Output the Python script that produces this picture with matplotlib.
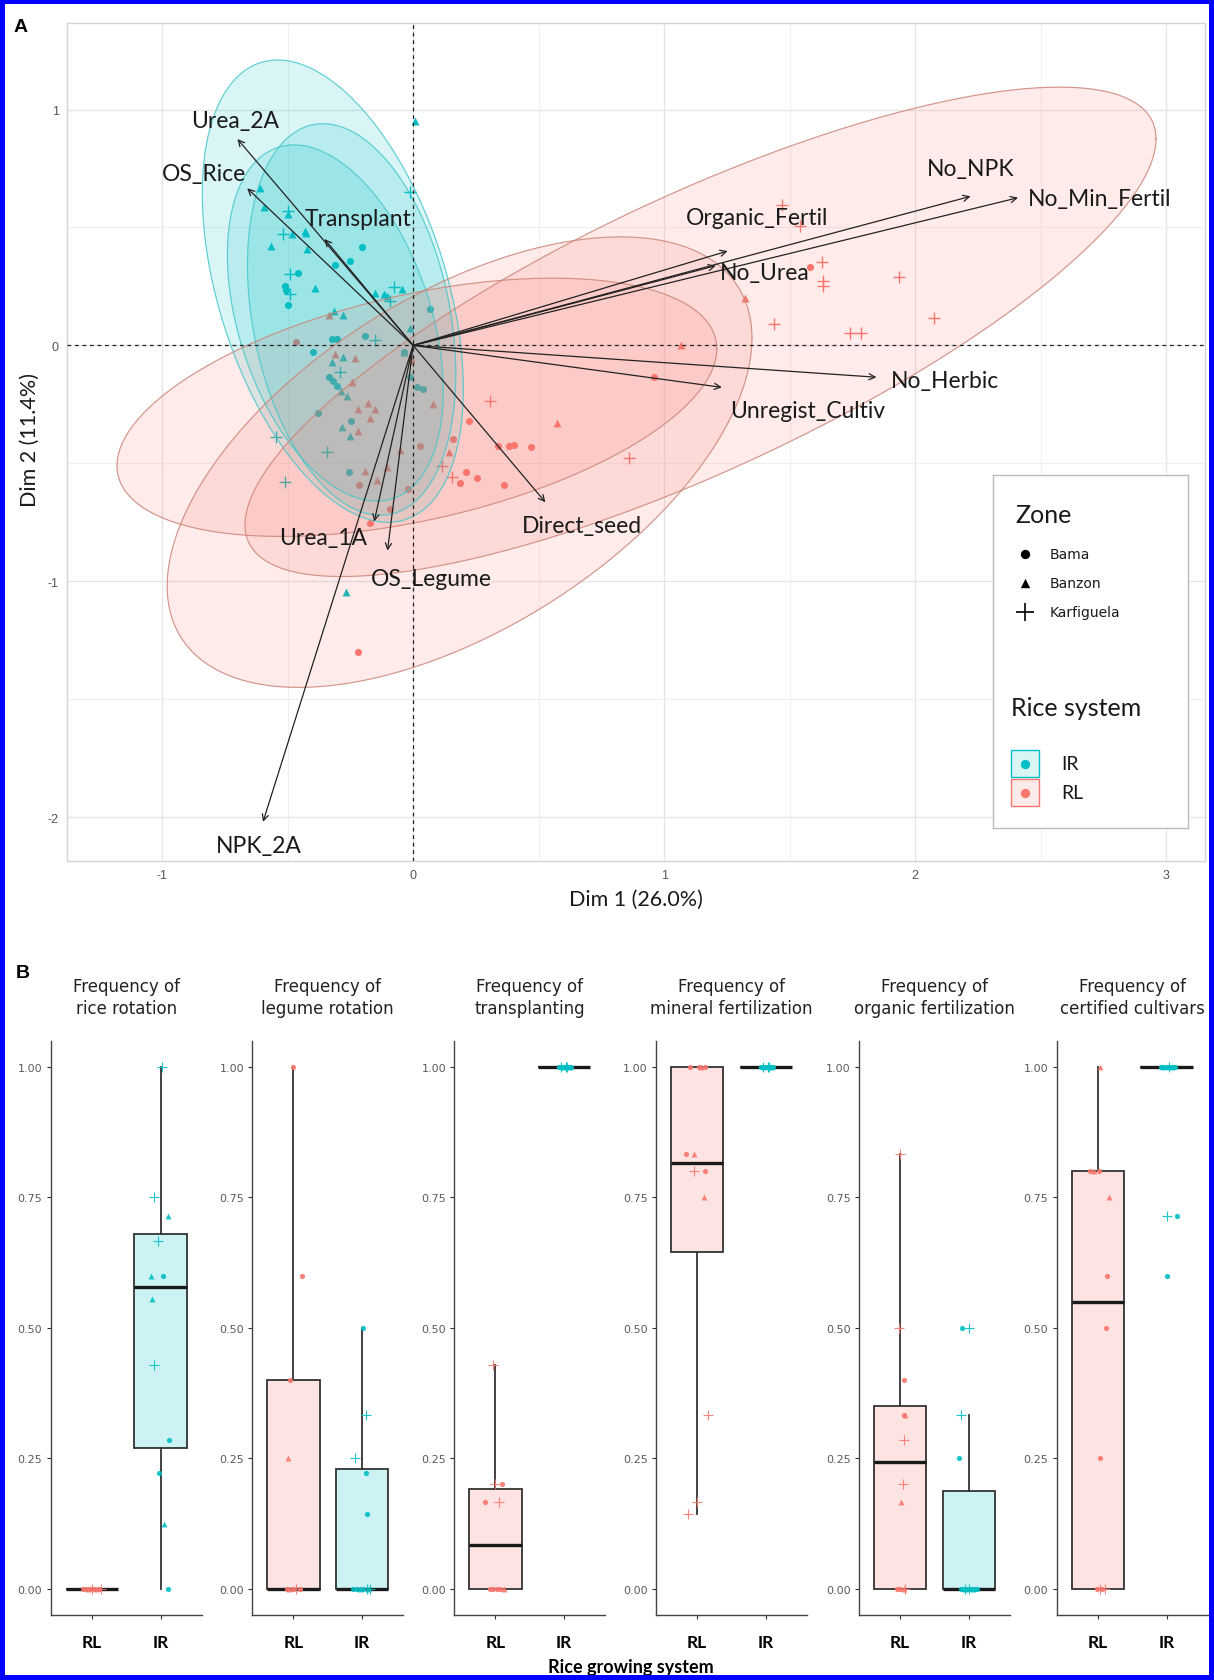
import numpy as np
import matplotlib
matplotlib.use("Agg")
import matplotlib.pyplot as plt
from matplotlib.patches import Polygon, Rectangle

# ======================= DATA: panel A (PCA biplot) =======================
ir_bama_d1 = [-0.204, -0.251, -0.31, -0.457, -0.51, -0.508, -0.499, 0.068, -0.324, -0.304, -0.191,
              -0.397, -0.038, -0.337, -0.32, -0.304, -0.012, 0.015, 0.041, -0.38, -0.247, -0.257]
ir_bama_d2 = [0.419, 0.359, 0.342, 0.307, 0.253, 0.233, 0.173, 0.154, 0.027, 0.027, 0.039,
              -0.027, -0.029, -0.135, -0.15, -0.171, -0.135, -0.178, -0.185, -0.287, -0.319, -0.538]
ir_banzon_d1 = [0.009, -0.609, -0.596, -0.50, -0.483, -0.43, -0.425, -0.567, -0.423, -0.39, -0.151,
                -0.118, -0.105, -0.045, -0.012, -0.317, -0.28, -0.035, -0.28, -0.323, -0.288, -0.264,
                -0.284, -0.253, -0.267]
ir_banzon_d2 = [0.953, 0.666, 0.585, 0.557, 0.472, 0.486, 0.478, 0.423, 0.409, 0.242, 0.222,
                0.218, 0.211, 0.239, 0.072, 0.147, 0.129, -0.027, -0.05, -0.072, -0.192, -0.213,
                -0.347, -0.383, -1.047]
ir_karf_d1 = [-0.012, -0.50, -0.517, -0.49, -0.49, -0.091, -0.078, -0.151, -0.293, -0.546, -0.344, -0.51]
ir_karf_d2 = [0.652, 0.57, 0.472, 0.303, 0.218, 0.19, 0.246, 0.024, -0.114, -0.39, -0.453, -0.578]

rl_bama_d1 = [-0.466, 0.026, -0.022, -0.094, -0.171, -0.214, -0.009, 0.221, 0.159, 0.212, 0.188,
              0.254, 0.34, 0.384, 0.40, 0.47, 0.363, 0.958, 1.583, -0.22]
rl_bama_d2 = [0.013, -0.428, -0.609, -0.694, -0.753, -0.592, -0.065, -0.319, -0.397, -0.535, -0.583,
              -0.563, -0.425, -0.428, -0.421, -0.429, -0.592, -0.133, 0.331, -1.30]
rl_banzon_d1 = [-0.337, -0.31, -0.233, -0.244, -0.218, -0.178, -0.151, -0.171, -0.218, -0.191,
                -0.144, -0.105, -0.054, 0.079, 0.144, 0.573, 1.067, 1.324]
rl_banzon_d2 = [0.129, -0.036, -0.055, -0.157, -0.27, -0.244, -0.27, -0.309, -0.362, -0.531,
                -0.569, -0.517, -0.442, -0.248, -0.45, -0.329, 0.0, 0.2]
rl_karf_d1 = [0.307, 0.115, 0.155, 0.862, 1.436, 1.47, 1.543, 1.629, 1.633, 1.633, 1.935, 2.074, 1.739, 1.785]
rl_karf_d2 = [-0.234, -0.51, -0.559, -0.479, 0.091, 0.595, 0.507, 0.352, 0.274, 0.253, 0.289, 0.115, 0.053, 0.053]

# confidence ellipses (centre, half-extent in x and y, phase of y-extreme)
ell_system = ["IR", "IR", "IR", "RL", "RL", "RL"]
ell_cx = [-0.32, -0.245, -0.31, 1.145, 0.185, 0.015]
ell_cy = [0.23, 0.11, 0.095, 0.0575, -0.495, -0.2625]
ell_hx = [0.52, 0.415, 0.43, 1.815, 1.165, 1.195]
ell_hy = [0.98, 0.83, 0.755, 1.0375, 0.955, 0.5475]
ell_phase = [115.0, 106.0, 112.5, 38.0, 56.6, 63.1]

# variable arrows
var_names = ["Urea_2A", "OS_Rice", "Transplant", "Organic_Fertil", "No_Urea", "No_NPK",
             "No_Min_Fertil", "No_Herbic", "Unregist_Cultiv", "Direct_seed", "Urea_1A",
             "OS_Legume", "NPK_2A"]
var_dim1 = [-0.70, -0.661, -0.353, 1.253, 1.206, 2.221, 2.41, 1.846, 1.23, 0.527, -0.155, -0.102, -0.598]
var_dim2 = [0.875, 0.666, 0.451, 0.40, 0.338, 0.632, 0.626, -0.135, -0.178, -0.665, -0.747, -0.87, -2.02]
lab_x = [-0.708, -0.834, -0.22, 1.37, 1.40, 2.22, 2.735, 2.12, 1.573, 0.673, -0.357, 0.072, -0.613]
lab_y = [0.953, 0.727, 0.536, 0.543, 0.31, 0.748, 0.624, -0.15, -0.277, -0.764, -0.813, -0.99, -2.12]

x_ticks_a = [-1, 0, 1, 2, 3]
y_ticks_a = [-2, -1, 0, 1]
zones = ["Bama", "Banzon", "Karfiguela"]
systems = ["IR", "RL"]

# ======================= DATA: panel B (boxplots) =======================
titles_b = ["Frequency of\nrice rotation", "Frequency of\nlegume rotation", "Frequency of\ntransplanting",
            "Frequency of\nmineral fertilization", "Frequency of\norganic fertilization",
            "Frequency of\ncertified cultivars"]
b_cats = ["RL", "IR"]
yticks_b = [0.0, 0.25, 0.5, 0.75, 1.0]

rl_vals = [
    [0, 0, 0, 0, 0, 0, 0, 0, 0],
    [1.0, 0.6, 0.4, 0.25, 0, 0, 0, 0, 0],
    [0.429, 0.2, 0.2, 0.167, 0.167, 0, 0, 0, 0, 0],
    [1, 1, 1, 1, 0.833, 0.833, 0.8, 0.8, 0.75, 0.333, 0.167, 0.143],
    [0.833, 0.5, 0.4, 0.333, 0.333, 0.286, 0.2, 0.167, 0, 0, 0, 0],
    [1.0, 0.8, 0.8, 0.8, 0.75, 0.6, 0.5, 0.25, 0, 0, 0, 0],
]
rl_zone = [
    ["Bama", "Bama", "Banzon", "Bama", "Karfiguela", "Bama", "Banzon", "Bama", "Karfiguela"],
    ["Bama", "Bama", "Bama", "Banzon", "Bama", "Bama", "Bama", "Karfiguela", "Banzon"],
    ["Karfiguela", "Bama", "Karfiguela", "Bama", "Karfiguela", "Bama", "Bama", "Bama", "Bama", "Banzon"],
    ["Bama", "Banzon", "Bama", "Bama", "Bama", "Banzon", "Karfiguela", "Bama", "Banzon", "Karfiguela",
     "Karfiguela", "Karfiguela"],
    ["Karfiguela", "Karfiguela", "Bama", "Bama", "Banzon", "Karfiguela", "Karfiguela", "Banzon",
     "Bama", "Bama", "Banzon", "Karfiguela"],
    ["Banzon", "Bama", "Bama", "Banzon", "Banzon", "Bama", "Bama", "Bama", "Karfiguela", "Karfiguela",
     "Bama", "Bama"],
]
rl_jit = [
    [-0.125, -0.09, -0.06, -0.03, 0.0, 0.03, 0.06, 0.1, 0.14],
    [-0.013, 0.13, -0.05, -0.075, -0.1, 0.0, 0.095, 0.03, -0.06],
    [-0.037, 0.095, -0.012, -0.15, 0.046, -0.08, -0.03, 0.02, 0.07, 0.12],
    [-0.107, 0.05, 0.024, 0.107, -0.156, -0.05, -0.05, 0.107, 0.1, 0.156, 0.0, -0.137],
    [0.0, -0.01, 0.06, 0.05, 0.07, 0.06, 0.04, 0.015, -0.05, 0.0, 0.05, 0.07],
    [0.035, -0.11, 0.01, -0.05, 0.155, 0.13, 0.12, 0.025, 0.035, 0.11, 0.06, -0.02],
]
ir_vals = [
    [1.0, 0.75, 0.714, 0.667, 0.6, 0.6, 0.556, 0.429, 0.286, 0.222, 0.125, 0.0],
    [0.5, 0.333, 0.25, 0.222, 0.143, 0, 0, 0, 0, 0, 0, 0],
    [1.0] * 12,
    [1.0] * 12,
    [0.5, 0.5, 0.333, 0.25, 0, 0, 0, 0, 0, 0, 0, 0, 0, 0],
    [0.714, 0.714, 0.6] + [1.0] * 11,
]
ir_zone = [
    ["Karfiguela", "Karfiguela", "Banzon", "Karfiguela", "Banzon", "Bama", "Banzon", "Karfiguela",
     "Bama", "Bama", "Banzon", "Bama"],
    ["Bama", "Karfiguela", "Karfiguela", "Bama", "Bama", "Bama", "Karfiguela", "Karfiguela", "Bama",
     "Banzon", "Bama", "Banzon"],
    ["Bama", "Karfiguela", "Banzon", "Bama", "Bama", "Karfiguela", "Bama", "Banzon", "Bama", "Bama",
     "Karfiguela", "Bama"],
    ["Bama", "Karfiguela", "Banzon", "Bama", "Bama", "Karfiguela", "Bama", "Banzon", "Bama", "Bama",
     "Karfiguela", "Bama"],
    ["Bama", "Karfiguela", "Karfiguela", "Bama", "Bama", "Bama", "Banzon", "Bama",
     "Karfiguela", "Bama", "Banzon", "Bama", "Bama", "Karfiguela"],
    ["Karfiguela", "Bama", "Bama", "Bama", "Bama", "Banzon", "Bama", "Bama", "Karfiguela", "Bama",
     "Banzon", "Bama", "Bama", "Bama"],
]
ir_jit = [
    [0.017, -0.095, 0.114, -0.032, -0.143, 0.032, -0.129, -0.095, 0.129, -0.017, 0.051, 0.114],
    [0.016, 0.055, -0.105, 0.055, 0.065, -0.13, 0.065, 0.113, -0.08, -0.03, 0.02, 0.09],
    [-0.07, -0.04, -0.02, 0.0, 0.02, 0.04, 0.06, 0.08, 0.1, -0.05, 0.03, 0.07],
    [-0.07, -0.04, -0.02, 0.0, 0.02, 0.04, 0.06, 0.08, 0.1, -0.05, 0.03, 0.07],
    [-0.095, 0.0, -0.12, -0.145, -0.12, -0.09, -0.06, -0.03, 0.0, 0.03, 0.06, 0.09, 0.125, -0.05],
    [0.01, 0.155, 0.01, -0.08, -0.05, -0.03, 0.0, 0.02, 0.04, 0.06, 0.08, 0.1, 0.12, -0.06],
]

# ======================= STYLE =======================
W, H = 1214, 1681
IR_COL = "#00BFC4"
RL_COL = "#F8766D"
SYS_COL = {"IR": IR_COL, "RL": RL_COL}
SYS_EDGE = {"IR": "#45C7CB", "RL": "#CC8475"}
MARK = {"Bama": "o", "Banzon": "^", "Karfiguela": "+"}
SIZE_A = {"Bama": 26, "Banzon": 32, "Karfiguela": 70}
SIZE_B = {"Bama": 14, "Banzon": 18, "Karfiguela": 55}
LAB_FONT = ["Lato", "DejaVu Sans"]

plt.rcParams["font.family"] = ["Lato", "DejaVu Sans"]

fig = plt.figure(figsize=(W / 100, H / 100), dpi=100)


def px_axes(l, t, r, b):
    return fig.add_axes([l / W, 1 - b / H, (r - l) / W, (b - t) / H])


# ======================= PANEL A =======================
ax = px_axes(67, 23.5, 1205, 861.5)
ax.set_xlim(-1.379, 3.155)
ax.set_ylim(-2.184, 1.369)
ax.set_xticks(x_ticks_a)
ax.set_yticks(y_ticks_a)
ax.set_xticks(np.arange(-1.0, 3.01, 0.5), minor=True)
ax.set_yticks(np.arange(-2.0, 1.01, 0.5), minor=True)
ax.grid(True, which="major", color="#E6E6E6", lw=1.0, zorder=0)
ax.grid(True, which="minor", color="#F0F0F0", lw=0.8, zorder=0)
ax.tick_params(which="both", length=0, labelsize=9, labelcolor="#555555", pad=6)
ax.set_xticklabels([str(v) for v in x_ticks_a], family="Liberation Sans")
ax.set_yticklabels([str(v) for v in y_ticks_a], family="Liberation Sans")
for s in ax.spines.values():
    s.set_color("#D4D4D4")
    s.set_linewidth(1.0)

groups = [
    ("IR", "Bama", ir_bama_d1, ir_bama_d2), ("IR", "Banzon", ir_banzon_d1, ir_banzon_d2),
    ("IR", "Karfiguela", ir_karf_d1, ir_karf_d2),
    ("RL", "Bama", rl_bama_d1, rl_bama_d2), ("RL", "Banzon", rl_banzon_d1, rl_banzon_d2),
    ("RL", "Karfiguela", rl_karf_d1, rl_karf_d2),
]
for sysn, zone, xs, ys in groups:
    if zone == "Karfiguela":
        ax.scatter(xs, ys, marker="+", s=SIZE_A[zone], color=SYS_COL[sysn], lw=1.0, zorder=2)
    else:
        ax.scatter(xs, ys, marker=MARK[zone], s=SIZE_A[zone], color=SYS_COL[sysn], lw=0, zorder=2)

t = np.linspace(0, 2 * np.pi, 400)
for sysn, cx, cy, hx, hy, ph in zip(ell_system, ell_cx, ell_cy, ell_hx, ell_hy, ell_phase):
    ex = cx + hx * np.cos(t)
    ey = cy + hy * np.cos(t - np.deg2rad(ph))
    alpha = 0.15 if sysn == "IR" else 0.14
    ax.add_patch(Polygon(np.column_stack([ex, ey]), closed=True, facecolor=SYS_COL[sysn],
                         alpha=alpha, edgecolor="none", zorder=3))
    ax.plot(ex, ey, color=SYS_EDGE[sysn], lw=0.85, alpha=0.85, zorder=3.5)

ax.axhline(0, color="#222222", lw=0.9, ls=(0, (3, 3)), zorder=4)
ax.axvline(0, color="#222222", lw=0.9, ls=(0, (3, 3)), zorder=4)

for name, vx, vy, lx, ly in zip(var_names, var_dim1, var_dim2, lab_x, lab_y):
    ax.annotate("", xy=(vx, vy), xytext=(0, 0),
                arrowprops=dict(arrowstyle="->", color="#222222", lw=0.9, shrinkA=0, shrinkB=0,
                                mutation_scale=11), zorder=5)
    ax.text(lx, ly, name, ha="center", va="center", fontsize=16.5, color="#1a1a1a",
            family=LAB_FONT, zorder=6)

ax.set_xlabel("Dim 1 (26.0%)", fontsize=15.5, color="#1a1a1a", labelpad=6)
fig.text(30 / W, 1 - 440 / H, "Dim 2 (11.4%)", rotation=90, ha="center", va="center",
         fontsize=15.5, color="#1a1a1a")

# legend
lg = px_axes(993, 476, 1187.5, 828.5)
lg.set_xlim(0, 1)
lg.set_ylim(0, 1)
lg.set_xticks([])
lg.set_yticks([])
for s in lg.spines.values():
    s.set_color("#BBBBBB")
    s.set_linewidth(1.0)
lg.text(0.114, 0.889, "Zone", fontsize=18, va="center", ha="left", color="#1a1a1a")
zone_y = [0.776, 0.695, 0.61]
for z, zy in zip(zones, zone_y):
    if z == "Karfiguela":
        lg.scatter([0.165], [zy], marker="+", s=150, color="black", lw=1.2)
    else:
        lg.scatter([0.165], [zy], marker=MARK[z], s=45, color="black", lw=0)
    lg.text(0.29, zy, z, fontsize=10, va="center", ha="left", color="#1a1a1a",
            family="Liberation Sans Narrow")
lg.text(0.09, 0.34, "Rice system", fontsize=18, va="center", ha="left", color="#1a1a1a")
sys_y = [0.181, 0.099]
for sname, sy in zip(systems, sys_y):
    lg.add_patch(Rectangle((0.093, sy - 0.039), 0.146, 0.078, facecolor=SYS_COL[sname], alpha=0.15,
                           edgecolor="none"))
    lg.add_patch(Rectangle((0.093, sy - 0.039), 0.146, 0.078, facecolor="none",
                           edgecolor=SYS_COL[sname], lw=1.0))
    lg.scatter([0.166], [sy], marker="o", s=45, color=SYS_COL[sname], lw=0)
    lg.text(0.352, sy, sname, fontsize=14, va="center", ha="left", color="#1a1a1a")

fig.text(21 / W, 1 - 27 / H, "A", fontsize=14, fontweight="bold", family="Liberation Sans",
         ha="center", va="center")

# ======================= PANEL B =======================
lefts = [50.7, 252.3, 454.3, 656.0, 859.0, 1056.7]
box_w = 151.0
top_b, bot_b = 1041.6, 1616.0
fill_col = {"RL": "#FDE3E1", "IR": "#CCF2F3"}

for i in range(6):
    l = lefts[i]
    bx = px_axes(l, top_b, l + box_w, bot_b)
    bx.set_xlim(0.4, 2.6)
    bx.set_ylim(-0.05, 1.05)
    for pos, sysn, vals in [(1, "RL", rl_vals[i]), (2, "IR", ir_vals[i])]:
        bx.boxplot([vals], positions=[pos], widths=0.76, whis=1.5, showfliers=False,
                   patch_artist=True,
                   boxprops=dict(facecolor=fill_col[sysn], edgecolor="#333333", lw=1.3),
                   medianprops=dict(color="#1a1a1a", lw=2.4, solid_capstyle="butt"),
                   whiskerprops=dict(color="#333333", lw=1.3),
                   capprops=dict(lw=0))
    for pos, sysn, vals, zs, js in [(1, "RL", rl_vals[i], rl_zone[i], rl_jit[i]),
                                     (2, "IR", ir_vals[i], ir_zone[i], ir_jit[i])]:
        for z in zones:
            xs = [pos + j for v, zz, j in zip(vals, zs, js) if zz == z]
            ys = [v for v, zz, j in zip(vals, zs, js) if zz == z]
            if not xs:
                continue
            if z == "Karfiguela":
                bx.scatter(xs, ys, marker="+", s=SIZE_B[z], color=SYS_COL[sysn], lw=0.8, zorder=4,
                           alpha=0.9)
            else:
                bx.scatter(xs, ys, marker=MARK[z], s=SIZE_B[z], color=SYS_COL[sysn], lw=0, zorder=4,
                           alpha=0.9)
    bx.set_xticks([1, 2])
    bx.set_xticklabels(b_cats, fontsize=12.5, fontweight="bold", color="black")
    bx.set_yticks(yticks_b)
    bx.set_yticklabels(["%.2f" % v for v in yticks_b], fontsize=8, color="#5a5a5a",
                       family="DejaVu Sans")
    bx.tick_params(axis="x", length=3, color="#333333", pad=11)
    bx.tick_params(axis="y", length=3, color="#333333", pad=3)
    for s in ["top", "right"]:
        bx.spines[s].set_visible(False)
    for s in ["left", "bottom"]:
        bx.spines[s].set_color("#444444")
        bx.spines[s].set_linewidth(1.0)
    fig.text((l + box_w / 2) / W, 1 - 998 / H, titles_b[i], ha="center", va="center",
             fontsize=12, color="#222222", family="DejaVu Sans", linespacing=1.25)

fig.text(23 / W, 1 - 974 / H, "B", fontsize=14, fontweight="bold", family="Liberation Sans",
         ha="center", va="center")
fig.text(631 / W, 1 - 1668 / H, "Rice growing system", ha="center", va="center", fontsize=13,
         fontweight="bold", color="black")

# blue frame
bw = 5
for (x0, y0, w, h) in [(0, 0, bw, H), (W - bw, 0, bw, H), (0, 0, W, bw), (0, H - bw, W, bw)]:
    fig.add_artist(Rectangle((x0 / W, 1 - (y0 + h) / H), w / W, h / H, transform=fig.transFigure,
                             facecolor="#0000FF", edgecolor="none", zorder=10))

fig.savefig("out.png", dpi=100)
